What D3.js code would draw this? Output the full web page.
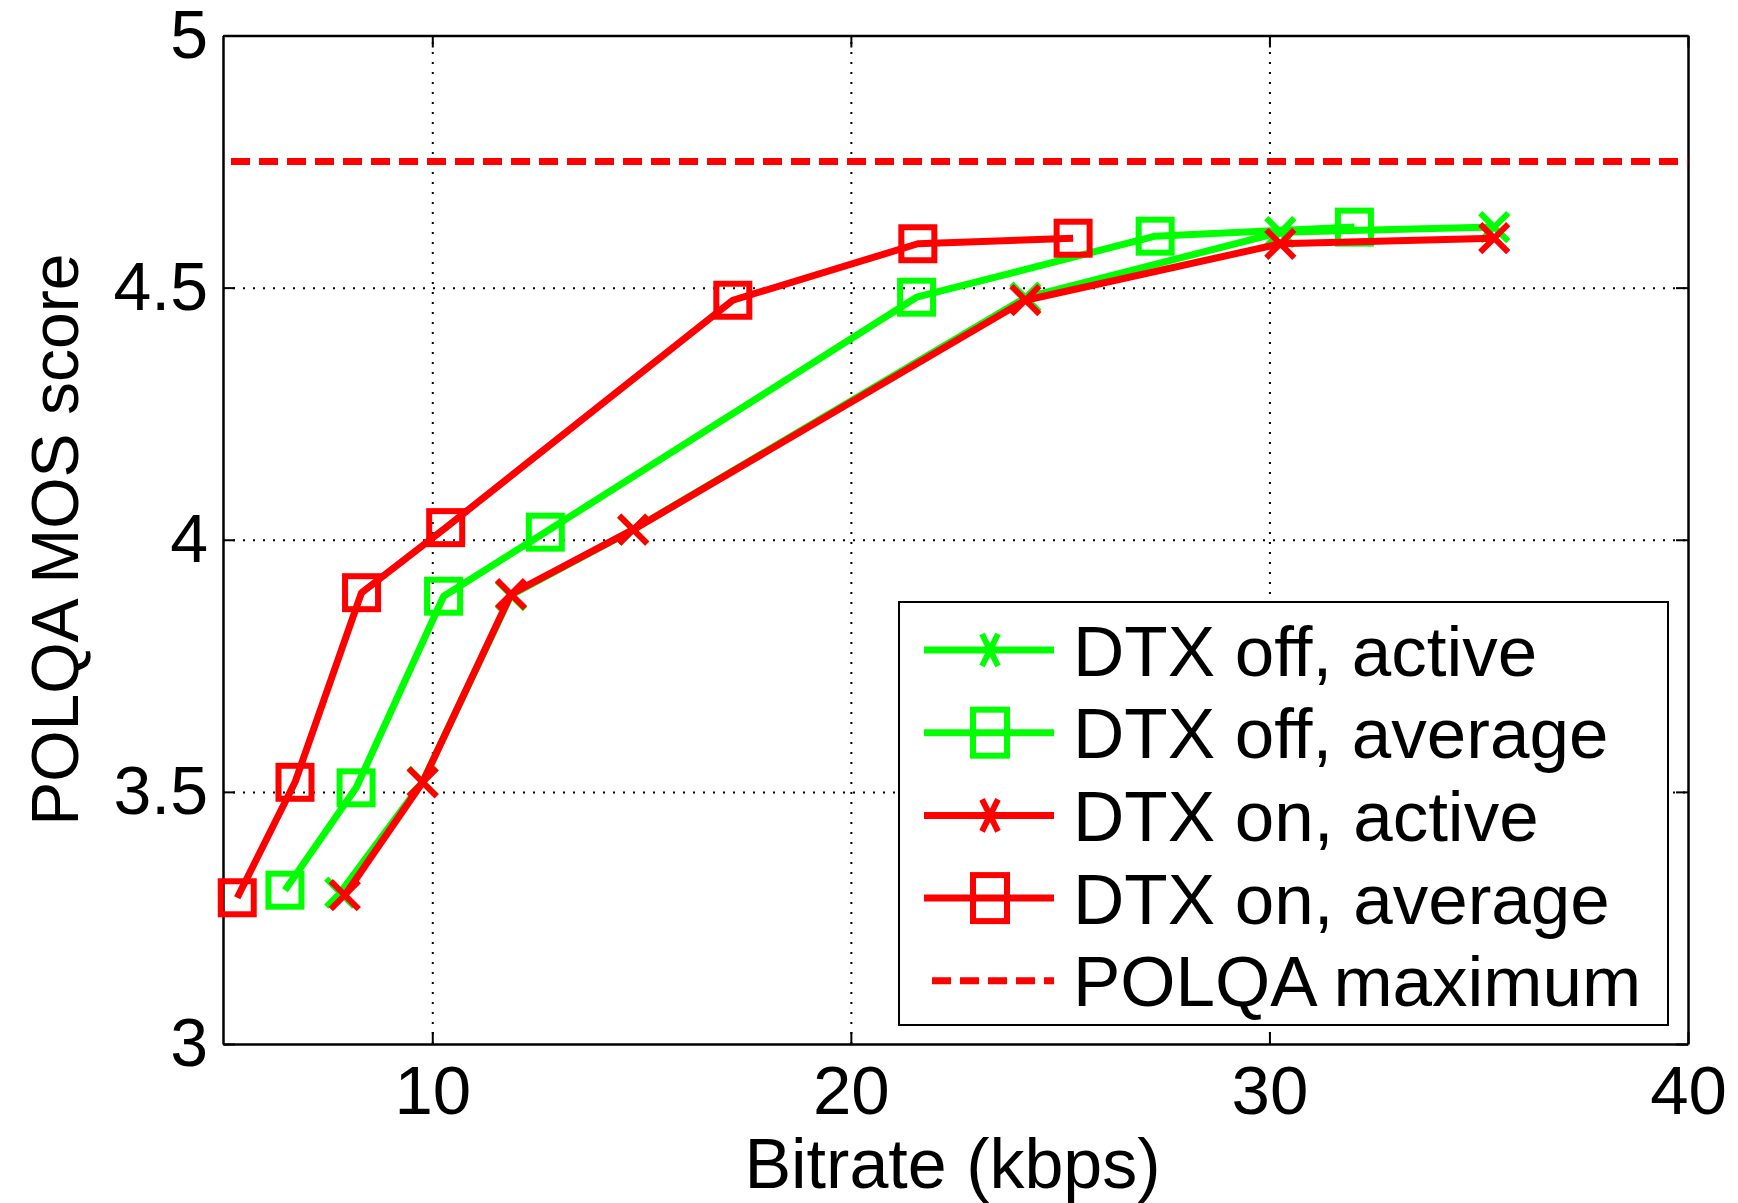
<!DOCTYPE html>
<html>
<head>
<meta charset="utf-8">
<script src="https://cdn.jsdelivr.net/npm/d3@7"></script>
<style>
  html, body { margin: 0; padding: 0; background: #fff; }
  svg { display: block; font-family: "Liberation Sans", Arial, Helvetica, sans-serif; }
</style>
</head>
<body>
<svg id="chart" width="1738" height="1203"></svg>
<script>
// Bitrate (kbps) for each operating point
const bitrateOffActive = [7.8, 9.77, 11.88, 14.8, 24.17, 30.26, 35.37];
const bitrateOffAverage = [6.48, 8.18, 10.27, 12.7, 21.57, 27.27, 32.03];
const bitrateOnActive = [7.91, 9.77, 11.88, 14.8, 24.17, 30.26, 35.37];
const bitrateOnAverage = [5.34, 6.72, 8.31, 10.32, 17.18, 21.6, 25.31];

// POLQA MOS scores
const mosOffActive = [3.30, 3.52, 3.89, 4.02, 4.48, 4.61, 4.62];
const mosOffAverage = [3.305, 3.508, 3.888, 4.015, 4.481, 4.602, 4.62];
const mosOnActive = [3.295, 3.519, 3.892, 4.02, 4.475, 4.587, 4.598];
const mosOnAverage = [3.29, 3.519, 3.895, 4.024, 4.475, 4.587, 4.598];

const polqaMax = 4.75;

const xTicks = [10, 20, 30, 40];
const yTicks = [3, 3.5, 4, 4.5, 5];
const xTickLabels = ["10", "20", "30", "40"];
const yTickLabels = ["3", "3.5", "4", "4.5", "5"];

const seriesNames = ["DTX off, active", "DTX off, average", "DTX on, active", "DTX on, average", "POLQA maximum"];

const GREEN = "#00ff00", RED = "#ff0000";

const series = [
  { name: seriesNames[0], x: bitrateOffActive, y: mosOffActive, color: GREEN, marker: "x" },
  { name: seriesNames[1], x: bitrateOffAverage, y: mosOffAverage, color: GREEN, marker: "square" },
  { name: seriesNames[2], x: bitrateOnActive, y: mosOnActive, color: RED, marker: "x" },
  { name: seriesNames[3], x: bitrateOnAverage, y: mosOnAverage, color: RED, marker: "square" }
];

const svg = d3.select("#chart");
const pLeft = 223, pRight = 1688, pTop = 35.5, pBottom = 1044;
const w = pRight - pLeft, h = pBottom - pTop;

const x = d3.scaleLinear().domain([5, 40]).range([pLeft, pRight]);
const y = d3.scaleLinear().domain([3, 5]).range([pBottom, pTop]);

// dotted grid
const grid = svg.append("g").attr("class", "grid");
grid.append("g")
  .attr("transform", `translate(0,${pBottom})`)
  .call(d3.axisBottom(x).tickValues(xTicks.filter(v => v > 5 && v < 40)).tickSize(-h).tickFormat(""))
  .call(g => g.select(".domain").remove())
  .call(g => g.selectAll("line").attr("stroke", "#000").attr("stroke-width", 2).attr("stroke-dasharray", "2,8"));
grid.append("g")
  .attr("transform", `translate(${pLeft},0)`)
  .call(d3.axisLeft(y).tickValues(yTicks.filter(v => v > 3 && v < 5)).tickSize(-w).tickFormat(""))
  .call(g => g.select(".domain").remove())
  .call(g => g.selectAll("line").attr("stroke", "#000").attr("stroke-width", 2).attr("stroke-dasharray", "2,8"));

// axes with inward ticks on all four sides
const tickLen = 12;
function styleAxis(g) {
  g.select(".domain").attr("stroke", "#000").attr("stroke-width", 2.5);
  g.selectAll(".tick line").attr("stroke", "#000").attr("stroke-width", 2);
}
svg.append("g")
  .attr("transform", `translate(0,${pBottom})`)
  .call(d3.axisBottom(x).tickValues(xTicks).tickSizeInner(-tickLen).tickSizeOuter(0).tickPadding(21)
    .tickFormat((d, i) => xTickLabels[i]))
  .call(styleAxis)
  .call(g => g.selectAll("text").attr("font-size", 69).attr("fill", "#000").attr("font-family", "Liberation Sans, Arial, sans-serif"));
svg.append("g")
  .attr("transform", `translate(${pLeft},0)`)
  .call(d3.axisLeft(y).tickValues(yTicks).tickSizeInner(-tickLen).tickSizeOuter(0).tickPadding(15)
    .tickFormat((d, i) => yTickLabels[i]))
  .call(styleAxis)
  .call(g => g.selectAll("text").attr("font-size", 68).attr("fill", "#000").attr("font-family", "Liberation Sans, Arial, sans-serif"));
svg.append("g")
  .attr("transform", `translate(0,${pTop})`)
  .call(d3.axisTop(x).tickValues(xTicks).tickSizeInner(-tickLen).tickSizeOuter(0).tickFormat(""))
  .call(styleAxis);
svg.append("g")
  .attr("transform", `translate(${pRight},0)`)
  .call(d3.axisRight(y).tickValues(yTicks).tickSizeInner(-tickLen).tickSizeOuter(0).tickFormat(""))
  .call(styleAxis);

// axis titles
svg.append("text")
  .attr("x", (pLeft + pRight) / 2 - 3).attr("y", 1188)
  .attr("text-anchor", "middle").attr("font-size", 70).attr("fill", "#000")
  .text("Bitrate (kbps)");
svg.append("text")
  .attr("transform", `translate(78,${(pTop + pBottom) / 2}) rotate(-90)`)
  .attr("text-anchor", "middle").attr("font-size", 66).attr("fill", "#000")
  .text("POLQA MOS score");

// plotted data
const plot = svg.append("g");
const line = d3.line();
const markerSize = 33, xSize = 28;

function drawMarker(g, type, cx, cy, color) {
  if (type === "square") {
    g.append("rect")
      .attr("x", cx - markerSize / 2).attr("y", cy - markerSize / 2)
      .attr("width", markerSize).attr("height", markerSize)
      .attr("fill", "none").attr("stroke", color).attr("stroke-width", 6);
  } else {
    const s = xSize / 2;
    g.append("path")
      .attr("d", `M${cx - s},${cy - s}L${cx + s},${cy + s}M${cx - s},${cy + s}L${cx + s},${cy - s}`)
      .attr("fill", "none").attr("stroke", color).attr("stroke-width", 6);
  }
}

series.forEach(s => {
  const pts = s.x.map((v, i) => [x(v), y(s.y[i])]);
  const g = plot.append("g");
  g.append("path")
    .attr("d", line(pts))
    .attr("fill", "none").attr("stroke", s.color).attr("stroke-width", 7)
    .attr("stroke-linejoin", "round");
  pts.forEach(p => drawMarker(g, s.marker, p[0], p[1], s.color));
});

// POLQA maximum reference line
plot.append("line")
  .attr("x1", x(5) + 8).attr("x2", pRight)
  .attr("y1", y(polqaMax)).attr("y2", y(polqaMax))
  .attr("stroke", RED).attr("stroke-width", 7).attr("stroke-dasharray", "19,9");

// legend
const lg = svg.append("g");
const lgLeft = 899, lgTop = 602, lgRight = 1668, lgBottom = 1025;
lg.append("rect")
  .attr("x", lgLeft).attr("y", lgTop).attr("width", lgRight - lgLeft).attr("height", lgBottom - lgTop)
  .attr("fill", "#fff").attr("stroke", "#000").attr("stroke-width", 2);

const rowY0 = 650, rowStep = 82.7;
const legendItems = series.map(s => ({ name: s.name, color: s.color, marker: s.marker, dashed: false }))
  .concat([{ name: seriesNames[4], color: RED, marker: null, dashed: true }]);

legendItems.forEach((it, i) => {
  const cy = rowY0 + i * rowStep;
  const g = lg.append("g");
  if (it.dashed) {
    g.append("line").attr("x1", 932).attr("x2", 1054).attr("y1", cy).attr("y2", cy)
      .attr("stroke", it.color).attr("stroke-width", 7).attr("stroke-dasharray", "19,9");
  } else {
    g.append("line").attr("x1", 924).attr("x2", 1054).attr("y1", cy).attr("y2", cy)
      .attr("stroke", it.color).attr("stroke-width", 7);
    if (it.marker === "square") {
      g.append("rect").attr("x", 990 - 17).attr("y", cy - 23).attr("width", 34).attr("height", 46)
        .attr("fill", "none").attr("stroke", it.color).attr("stroke-width", 6);
    } else {
      const sx = 8, sy = 16;
      g.append("path")
        .attr("d", `M${990 - sx},${cy - sy}L${990 + sx},${cy + sy}M${990 - sx},${cy + sy}L${990 + sx},${cy - sy}`)
        .attr("fill", "none").attr("stroke", it.color).attr("stroke-width", 6);
    }
  }
  g.append("text").attr("x", 1073).attr("y", cy).attr("dy", "0.36em")
    .attr("font-size", 71).attr("fill", "#000").text(it.name);
});
</script>
</body>
</html>
